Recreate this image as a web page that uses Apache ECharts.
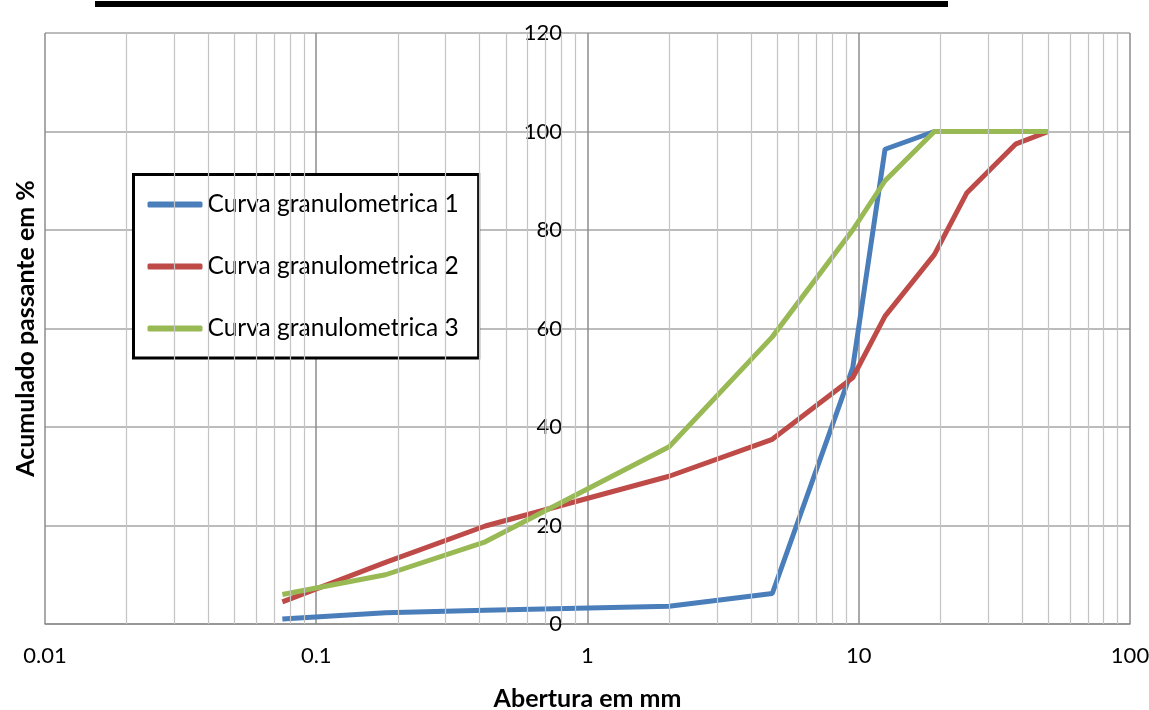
<!DOCTYPE html>
<html>
<head>
<meta charset="utf-8">
<script src="https://cdn.jsdelivr.net/npm/echarts@6/dist/echarts.min.js"></script>
<style>
  html, body { margin: 0; padding: 0; background: #fff; }
  #chart { width: 1149px; height: 710px; }
</style>
</head>
<body>
<div id="chart"></div>
<script>
// sieve openings (mm)
var sieves = [0.075, 0.18, 0.42, 2, 4.8, 9.5, 12.5, 19, 25, 38, 50];
var curva1 = [1, 2.3, 2.8, 3.6, 6.2, 52, 96.4, 100, 100, 100, 100];
var curva2 = [4.5, 12.5, 19.9, 30, 37.5, 50, 62.5, 75, 87.5, 97.5, 100];
var curva3 = [6, 10, 16.7, 36, 58.3, 80, 90, 100, 100, 100, 100];
var seriesNames = ['Curva granulometrica 1', 'Curva granulometrica 2', 'Curva granulometrica 3'];
var colors = ['#4a7ebb', '#be4b48', '#98b954'];
// minor log grid lines 2..9 per decade
var minorTicks = [0.02, 0.03, 0.04, 0.05, 0.06, 0.07, 0.08, 0.09,
	0.2, 0.3, 0.4, 0.5, 0.6, 0.7, 0.8, 0.9,
	2, 3, 4, 5, 6, 7, 8, 9,
	20, 30, 40, 50, 60, 70, 80, 90];

var font = "Lato, 'Open Sans', sans-serif";

function pairs(ys) {
	return sieves.map(function (x, i) { return [x, ys[i]]; });
}

var chart = echarts.init(document.getElementById('chart'));

var option = {
	animation: false,
	textStyle: { fontFamily: font },
	graphic: [{
		type: 'rect',
		shape: { x: 95, y: 1, width: 853, height: 6 },
		style: { fill: '#000' }
	}],
	grid: { left: 45, right: 19, top: 33, bottom: 86, outerBoundsMode: 'none' },
	legend: {
		orient: 'vertical',
		left: 133.5,
		top: 174.5,
		width: 345,
		padding: [17.5, 20, 17, 14],
		itemWidth: 55,
		itemHeight: 6,
		itemGap: 37,
		borderColor: '#000',
		borderWidth: 3,
		backgroundColor: '#fff',
		textStyle: { fontSize: 24.5, lineHeight: 20, color: '#000', fontFamily: font },
		data: seriesNames.map(function (n) { return { name: n, icon: 'roundRect' }; })
	},
	xAxis: {
		type: 'log',
		logBase: 10,
		min: 0.01,
		max: 100,
		name: 'Abertura em mm',
		nameLocation: 'middle',
		nameGap: 62,
		nameTextStyle: { fontSize: 25, fontWeight: 'bold', color: '#000', fontFamily: font },
		axisLine: { show: true, lineStyle: { color: '#8c8c8c', width: 1.5 } },
		axisTick: { show: false },
		axisLabel: { fontSize: 22, color: '#000', margin: 21, fontFamily: font },
		splitLine: { show: true, lineStyle: { color: '#8c8c8c', width: 1.5 } }
	},
	yAxis: [{
		type: 'value',
		min: 0,
		max: 120,
		interval: 20,
		name: 'Acumulado passante em %',
		nameLocation: 'middle',
		nameRotate: 90,
		nameGap: 7,
		nameTextStyle: { fontSize: 25, fontWeight: 'bold', color: '#000', fontFamily: font },
		axisLine: { show: false },
		axisTick: { show: false },
		axisLabel: { show: false },
		splitLine: { show: true, lineStyle: { color: '#a6a6a6', width: 1.5 } }
	}, {
		type: 'value',
		min: 0,
		max: 120,
		interval: 20,
		position: 'left',
		offset: -542,
		axisLine: { show: false },
		axisTick: { show: false },
		axisLabel: { fontSize: 22, color: '#000', margin: 25, fontFamily: font },
		splitLine: { show: false }
	}],
	series: [{
		type: 'line',
		name: 'minor',
		data: [],
		z: 1,
		silent: true,
		markLine: {
			silent: true,
			symbol: 'none',
			label: { show: false },
			lineStyle: { color: '#c4c4c4', width: 1.2, type: 'solid' },
			data: minorTicks.map(function (v) { return { xAxis: v }; })
		}
	}].concat([curva1, curva2, curva3].map(function (ys, i) {
		return {
			type: 'line',
			name: seriesNames[i],
			data: pairs(ys),
			symbol: 'none',
			z: 3,
			color: colors[i],
			itemStyle: { color: colors[i] },
			lineStyle: { width: 5, color: colors[i] }
		};
	}))
};
chart.setOption(option);
</script>
</body>
</html>
